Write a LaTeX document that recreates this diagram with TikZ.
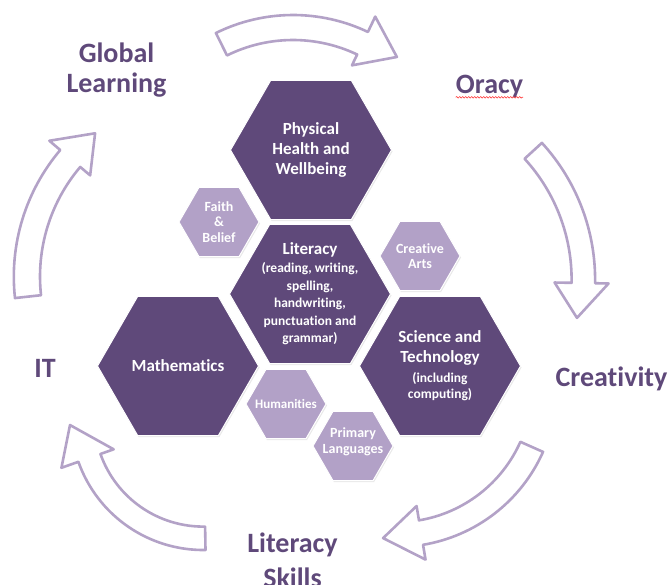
\documentclass[tikz,border=0pt]{standalone}
\usepackage{fontspec}
\setmainfont{Carlito}[Ligatures={NoCommon,NoContextual}]
\usetikzlibrary{shapes.geometric,shadows,decorations.pathmorphing}

\definecolor{plumdark}{HTML}{5F497A}
\definecolor{plumlight}{HTML}{B2A1C7}
\definecolor{plumline}{HTML}{B3A2C7}

\begin{document}
\begin{tikzpicture}[
			x=1pt, y=1pt,
			hexa/.style={
				regular polygon,
				regular polygon sides=6,
				minimum size=161pt,
				text width=110pt,
				inner sep=-20pt,
				outer sep=0pt,
				fill=plumdark,
				draw=white,
				line width=1pt,
				text=white,
				align=flush center,
				font=\bfseries\fontsize{17}{20}\selectfont,
				drop shadow={opacity=0.18, shadow xshift=1pt, shadow yshift=-1.5pt}
			},
			smallhexa/.style={
				hexa,
				minimum size=80pt,
				text width=72pt,
				fill=plumlight,
				font=\bfseries\fontsize{14}{15.8}\selectfont
			},
			looplabel/.style={
				text=plumdark,
				align=flush center,
				inner sep=0pt,
				font=\bfseries\fontsize{28}{30}\selectfont
			},
			turnarrow/.style={
				draw=plumline,
				line width=2.6pt,
				line join=round,
				fill=white
			},
			spellmark/.style={
				draw=red!75,
				line width=0.6pt,
				decorate,
				decoration={snake, amplitude=0.8pt, segment length=3pt}
			}
		]

		\useasboundingbox (0,0) rectangle (671,-585);

		% curved block arrows running clockwise round the hexagons
		% centre x / centre y / inner r / outer r / tail / head base / tip angle / tip r / flare out / flare in
		\foreach \cx/\cy/\rin/\rout/\atail/\abase/\atip/\rtip/\fout/\finn in {
				293/-189/149/174/116.3/64.5/51.8/168/17/12,
				392.6/-279.7/179/202.5/42.5/-1/-11.7/188.3/13.5/17,
				396.6/-386.7/135.5/160.3/-24/-80.5/-95.1/152/15/14.5,
				203.2/-417.6/109/132.4/-89/-160.5/-176.8/133.4/18/14,
				209.5/-276.6/169.5/195.7/186.3/139.7/128.6/183.4/14.3/13}{%
			\draw [turnarrow, shift={(\cx,\cy)}]
				(\atail:\rout) arc [start angle=\atail, end angle=\abase, radius=\rout]
				-- (\abase:{\rout+\fout}) -- (\atip:\rtip) -- (\abase:{\rin-\finn}) -- (\abase:\rin)
				arc [start angle=\abase, end angle=\atail, radius=\rin] -- cycle;
		}

		\node [smallhexa] (FAITH) at (219,-222) {Faith\\\&\\Belief};
		\node [smallhexa, font=\bfseries\fontsize{14}{15.3}\selectfont] (ARTS) at (420,-256) {Creative\\Arts};
		\node [smallhexa, font=\bfseries\fontsize{13}{15}\selectfont] (HUM) at (286,-404) {Humanities};
		\node [smallhexa] (LANG) at (353,-446) {Primary\\Languages\\[-5pt]\mbox{}};

		\node [hexa] (PHW) at (311,-150) {Physical\\Health and\\Wellbeing};
		\node [hexa, font=\bfseries\fontsize{13.5}{17.6}\selectfont] (LIT) at (310,-294)
			{{\fontsize{17}{17.6}\selectfont Literacy}\\(reading, writing,\\spelling,\\handwriting,\\punctuation and\\grammar)};
		\node [hexa] (MATH) at (178,-366) {Mathematics};
		\node [hexa, font=\bfseries\fontsize{13.5}{16}\selectfont] (SCI) at (440,-366)
			{{\fontsize{17}{20}\selectfont Science and}\\[4pt]{\fontsize{17}{20}\selectfont Technology}\\[4pt](including\\computing)};

		\node [looplabel] (GL) at (116.5,-69.7) {Global\\Learning};
		\node [looplabel, anchor=base] (ORA) at (489.5,-93.3) {Oracy};
		\node [looplabel, anchor=base] (CRE) at (611.5,-386.7) {Creativity};
		\node [looplabel, anchor=base] (IT) at (45,-377) {IT};
		\node [looplabel, font=\bfseries\fontsize{28}{35}\selectfont] (LS) at (292.5,-560) {Literacy\\Skills};
		\draw [spellmark] ([yshift=-4pt]ORA.base west) -- ([yshift=-4pt]ORA.base east);
		%\draw [spellmark] (ORA.south west) -- (ORA.south east);

	\end{tikzpicture}
\end{document}
